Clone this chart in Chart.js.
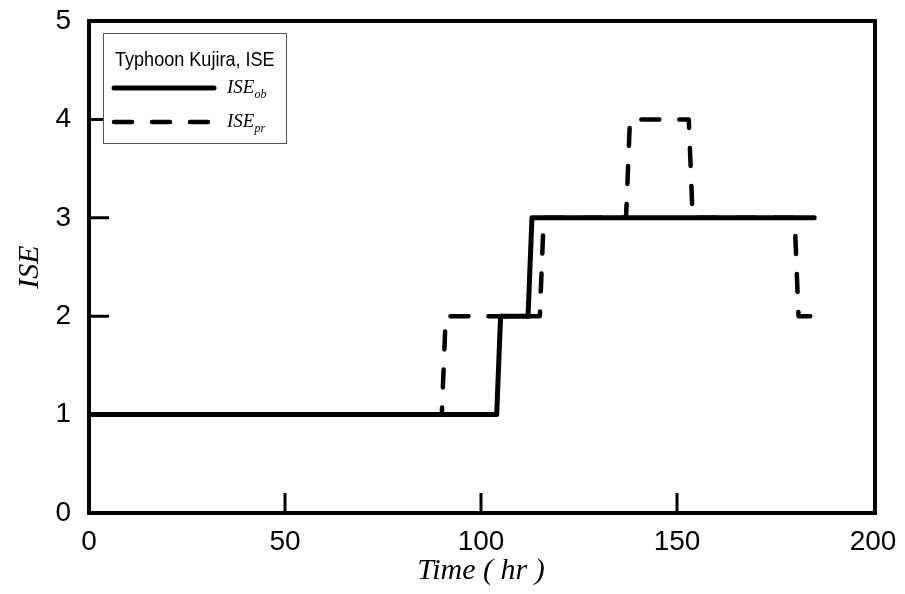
<!DOCTYPE html>
<html>
<head>
<meta charset="utf-8">
<script src="https://cdn.jsdelivr.net/npm/chart.js@4.4.1/dist/chart.umd.min.js"></script>
<style>
  html, body { margin: 0; padding: 0; background: #fff; }
  #wrap { width: 905px; height: 594px; }
</style>
</head>
<body>
<div id="wrap"><canvas id="iseChart"></canvas></div>
<script>
// observed ISE (solid)
const obTime = [0, 104, 105, 112, 113, 185]
const obISE = [1, 1, 2, 2, 3, 3]
// predicted ISE (dashed)
const prTime = [0, 90, 91, 115, 116, 137, 138, 153, 154, 180, 181, 184]
const prISE = [1, 1, 2, 2, 3, 3, 4, 4, 3, 3, 2, 2]

const xTicks = [0, 50, 100, 150, 200]
const yTicks = [0, 1, 2, 3, 4, 5]

const legendTitle = 'Typhoon Kujira, ISE'
const legendNames = [['ISE', 'ob'], ['ISE', 'pr']]

function toPoints(xs, ys) {
    return xs.map((x, i) => ({ x: x, y: ys[i] }))
}

// frame around the plot + inward ticks
const framePlugin = {
    id: 'frame',
    afterDatasetsDraw(chart) {
        const ctx = chart.ctx
        const a = chart.chartArea
        const xs = chart.scales.x, ys = chart.scales.y
        ctx.save()
        ctx.strokeStyle = '#000'
        ctx.lineWidth = 3
        ctx.lineCap = 'butt'
        ctx.beginPath()
        xTicks.slice(1, -1).forEach(v => {
            const px = xs.getPixelForValue(v)
            ctx.moveTo(px, a.bottom)
            ctx.lineTo(px, a.bottom - 20)
        })
        yTicks.forEach(v => {
            const py = ys.getPixelForValue(v)
            ctx.moveTo(a.left, py)
            ctx.lineTo(a.left + 20, py)
        })
        ctx.stroke()
        ctx.lineWidth = 4
        ctx.strokeRect(a.left, a.top, a.right - a.left + 2, a.bottom - a.top)
        ctx.restore()
    }
}

// boxed legend with subscripts
const legendPlugin = {
    id: 'boxLegend',
    afterDraw(chart) {
        const ctx = chart.ctx
        const a = chart.chartArea
        const bx = a.left + 14, by = a.top + 12, bw = 183, bh = 110
        ctx.save()
        ctx.fillStyle = '#fff'
        ctx.fillRect(bx, by, bw, bh)
        ctx.strokeStyle = '#555'
        ctx.lineWidth = 1
        ctx.strokeRect(bx + 0.5, by + 0.5, bw, bh)

        // narrow title: squeeze the sans font horizontally
        ctx.fillStyle = '#000'
        ctx.font = '21px "Liberation Sans Narrow", "Arial Narrow", "Liberation Sans", sans-serif'
        ctx.textBaseline = 'middle'
        ctx.textAlign = 'left'
        ctx.save()
        ctx.translate(bx + 12, by + 27)
        ctx.scale(0.86, 1)
        ctx.fillText(legendTitle, 0, 0)
        ctx.restore()

        chart.data.datasets.forEach((ds, i) => {
            const ly = by + 55 + i * 34
            ctx.strokeStyle = '#000'
            ctx.lineWidth = ds.borderWidth
            ctx.lineCap = 'round'
            ctx.setLineDash(ds.borderDash || [])
            ctx.beginPath()
            ctx.moveTo(bx + 11, ly)
            ctx.lineTo(bx + 111, ly)
            ctx.stroke()
            ctx.setLineDash([])
            ctx.textBaseline = 'alphabetic'
            ctx.font = 'italic 19px "Liberation Serif", "Times New Roman", serif'
            const main = legendNames[i][0]
            ctx.fillText(main, bx + 124, ly + 5)
            const w = ctx.measureText(main).width
            ctx.font = 'italic 12px "Liberation Serif", "Times New Roman", serif'
            ctx.fillText(legendNames[i][1], bx + 124 + w, ly + 10)
        })
        ctx.restore()
    }
}

new Chart(document.getElementById('iseChart'), {
    type: 'scatter',
    data: {
        datasets: [{
            label: 'ISE_ob',
            data: toPoints(obTime, obISE),
            showLine: true,
            borderColor: '#000',
            borderWidth: 5,
            pointRadius: 0,
            borderCapStyle: 'round',
            borderJoinStyle: 'round'
        }, {
            label: 'ISE_pr',
            data: toPoints(prTime, prISE),
            showLine: true,
            borderColor: '#000',
            borderWidth: 4.5,
            borderDash: [18, 20],
            pointRadius: 0,
            borderCapStyle: 'round',
            borderJoinStyle: 'round'
        }]
    },
    options: {
        responsive: true,
        maintainAspectRatio: false,
        animation: false,
        layout: { padding: { top: 21, right: 32, left: 0, bottom: 0 } },
        plugins: {
            legend: { display: false },
            tooltip: { enabled: false }
        },
        scales: {
            x: {
                type: 'linear',
                min: 0,
                max: 200,
                afterBuildTicks: s => { s.ticks = xTicks.map(v => ({ value: v })) },
                afterFit: s => { s.height = 81; s.paddingLeft = 0; s.paddingRight = 0 },
                grid: { display: false, drawTicks: false },
                border: { display: false },
                ticks: {
                    color: '#000',
                    padding: 12,
                    maxRotation: 0,
                    font: { family: '"Liberation Sans", Arial, sans-serif', size: 28 }
                },
                title: {
                    display: true,
                    text: 'Time ( hr )',
                    color: '#000',
                    padding: { top: 0, bottom: 5 },
                    font: { family: '"Liberation Serif", "Times New Roman", serif', size: 30, style: 'italic' }
                }
            },
            y: {
                type: 'linear',
                min: 0,
                max: 5,
                afterBuildTicks: s => { s.ticks = yTicks.map(v => ({ value: v })) },
                afterFit: s => { s.width = 89; s.paddingTop = 0; s.paddingBottom = 0 },
                grid: { display: false, drawTicks: false },
                border: { display: false },
                ticks: {
                    color: '#000',
                    padding: 18,
                    font: { family: '"Liberation Sans", Arial, sans-serif', size: 28 }
                },
                title: {
                    display: true,
                    text: 'ISE',
                    color: '#000',
                    padding: { top: 12, bottom: 0 },
                    font: { family: '"Liberation Serif", "Times New Roman", serif', size: 30, style: 'italic' }
                }
            }
        }
    },
    plugins: [framePlugin, legendPlugin]
});
</script>
</body>
</html>
